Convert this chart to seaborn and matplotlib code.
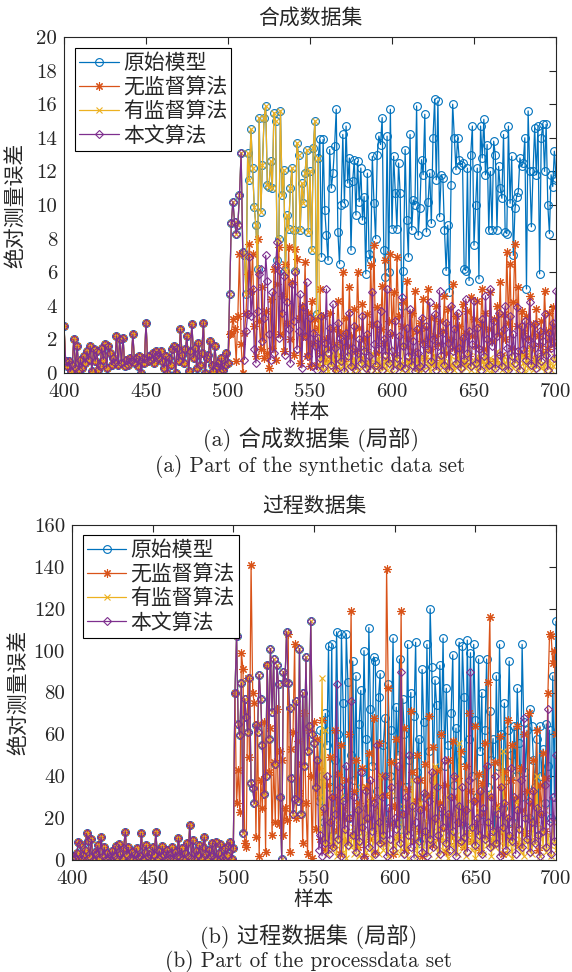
import numpy as np
import pandas as pd
import matplotlib
matplotlib.use("Agg")
import matplotlib.pyplot as plt
import seaborn as sns
from matplotlib.font_manager import FontProperties

# ---------------- data ----------------
sample_start = 400
x_ticks = [400, 450, 500, 550, 600, 650, 700]
x_tick_labels = ["400", "450", "500", "550", "600", "650", "700"]
y_ticks_syn = [0, 2, 4, 6, 8, 10, 12, 14, 16, 18, 20]
y_ticks_proc = [0, 20, 40, 60, 80, 100, 120, 140, 160]

series_names = ["原始模型", "无监督算法", "有监督算法", "本文算法"]

# --- synthetic data set ---
# samples 400-500: identical for every method
syn_common = [
    2.8, 0.7, 0.4, 0.7, 0.1, 0.5, 2.0, 0.3, 1.6, 0.2,
    0.8, 0.3, 1.0, 0.6, 1.3, 0.8, 1.6, 0.1, 1.4, 0.7,
    1.3, 0.2, 0.4, 1.5, 0.8, 1.7, 0.3, 1.6, 1.2, 0.5,
    0.9, 0.6, 2.2, 0.5, 2.0, 0.6, 2.1, 0.4, 0.8, 0.5,
    0.9, 0.7, 2.3, 0.6, 0.9, 0.4, 1.0, 0.0, 0.9, 0.6,
    3.0, 0.7, 1.0, 0.8, 1.2, 0.6, 1.3, 1.1, 0.9, 1.3,
    0.7, 0.3, 1.0, 0.0, 0.9, 0.5, 1.4, 1.6, 0.0, 1.5,
    0.7, 2.6, 1.1, 0.6, 1.4, 2.2, 0.1, 1.3, 2.9, 0.9,
    1.5, 0.3, 1.8, 0.5, 1.2, 3.0, 0.0, 0.9, 1.1, 1.9,
    0.5, 0.1, 1.6, 0.4, 0.6, 0.1, 0.9, 0.2, 0.5, 1.2,
    0.6,
]
# samples 501-509: original / supervised / proposed coincide
syn_early = [4.7, 8.9, 10.2, 9.0, 8.3, 8.8, 10.6, 13.1, 7.2]
# samples 510-555: original and supervised coincide
syn_mid = [
    7.0, 4.7, 13.1, 11.5, 14.5, 12.2, 9.9, 8.8, 6.2, 15.2,
    9.6, 12.4, 15.2, 15.9, 11.2, 11.1, 12.6, 11.0, 15.5, 15.0,
    6.7, 8.0, 15.6, 10.6, 12.1, 6.1, 9.4, 8.6, 11.0, 12.2,
    8.5, 6.1, 13.7, 13.0, 8.5, 11.3, 10.1, 11.9, 13.3, 8.4,
    12.0, 7.3, 13.4, 15.0, 3.5, 12.8,
]
# samples 556-700
syn_orig_tail = [
    13.9, 6.9, 13.9, 9.7, 8.2, 6.7, 13.3, 11.0, 11.9, 13.5,
    15.7, 8.4, 6.5, 10.0, 14.2, 10.1, 14.7, 11.3, 12.8, 7.3,
    11.4, 12.7, 9.4, 12.6, 10.2, 12.2, 9.1, 10.5, 5.9, 11.9,
    7.1, 6.7, 12.9, 10.1, 8.0, 13.0, 14.1, 13.6, 15.2, 7.3,
    5.7, 14.1, 6.0, 15.7, 8.6, 12.9, 10.7, 8.6, 12.5, 10.7,
    4.0, 6.1, 13.3, 9.1, 6.9, 14.2, 8.5, 10.3, 10.0, 15.9,
    8.2, 9.8, 12.7, 11.8, 15.4, 8.4, 10.2, 11.9, 8.9, 14.0,
    16.3, 11.5, 16.2, 9.3, 11.8, 11.6, 8.5, 6.1, 8.8, 4.8,
    11.2, 16.0, 14.0, 12.1, 14.0, 12.7, 12.4, 12.5, 6.2, 6.1,
    12.2, 5.5, 13.0, 14.7, 7.6, 10.0, 12.2, 5.6, 14.7, 12.8,
    15.1, 11.8, 13.6, 8.5, 12.0, 8.5, 13.8, 13.0, 8.5, 12.3,
    11.0, 10.4, 14.2, 8.4, 8.3, 14.7, 10.1, 12.9, 7.0, 9.8,
    10.5, 10.8, 12.8, 12.3, 12.5, 14.0, 5.0, 15.6, 12.0, 8.7,
    12.0, 14.6, 11.8, 14.7, 5.9, 14.0, 14.8, 12.0, 14.8, 10.0,
    8.3, 11.8, 11.1, 13.2, 11.6,
]
syn_sup_tail = [
    0.3, 1.0, 0.2, 0.6, 1.4, 0.1, 0.8, 0.5, 1.2, 0.0,
    0.7, 1.6, 0.3, 0.9, 0.4, 1.1, 0.2, 0.5, 1.3, 0.6,
    0.1, 0.9, 0.4, 0.2, 1.0, 0.7, 0.3, 1.5, 0.5, 0.0,
    0.8, 0.4, 1.2, 0.2, 0.6, 0.9, 0.1, 0.5, 1.1, 0.3,
    0.7, 0.2, 1.4, 0.6, 0.0, 0.9, 0.4, 1.0, 0.3, 0.6,
    0.2, 1.7, 0.5, 0.8, 0.1, 0.4, 1.2, 0.6, 0.3, 0.9,
    0.0, 0.5, 1.0, 0.2, 0.7, 1.3, 0.4, 0.1, 0.8, 0.5,
    1.1, 0.3, 0.6, 0.2, 0.9, 0.4, 1.5, 0.0, 0.7, 0.3,
    1.0, 0.5, 0.2, 0.8, 0.4, 1.2, 0.1, 0.6, 0.9, 0.3,
    0.5, 1.4, 0.2, 0.7, 0.4, 1.0, 0.1, 0.6, 0.3, 0.8,
    0.5, 1.1, 0.2, 0.4, 0.9, 0.0, 0.7, 0.3, 1.3, 0.5,
    0.6, 0.2, 1.0, 0.4, 0.8, 0.1, 0.5, 1.2, 0.3, 0.7,
    0.9, 0.2, 0.4, 1.1, 0.6, 0.0, 0.8, 0.3, 1.4, 0.5,
    0.2, 0.9, 0.4, 0.7, 1.0, 0.3, 0.6, 0.1, 1.2, 0.5,
    0.8, 0.2, 0.4, 1.0, 0.6,
]
# samples 501-700
syn_unsup_tail = [
    2.3, 2.4, 3.2, 2.6, 0.7, 3.4, 7.1, 1.7, 0.0, 2.4,
    3.6, 5.9, 7.7, 4.9, 7.1, 2.8, 1.0, 8.0, 3.1, 1.4,
    5.1, 0.9, 3.7, 1.2, 0.3, 4.4, 1.5, 6.2, 0.8, 5.3,
    7.5, 2.3, 4.6, 1.3, 6.5, 3.0, 7.5, 2.0, 5.4, 1.1,
    7.4, 6.8, 3.3, 0.6, 4.0, 2.2, 6.6, 1.0, 3.6, 0.4,
    4.3, 1.8, 3.2, 0.5, 2.7, 5.0, 1.2, 3.4, 0.8, 2.0,
    1.5, 3.6, 0.9, 2.6, 0.3, 1.7, 4.3, 2.4, 1.0, 6.0,
    0.7, 3.3, 1.6, 5.1, 2.2, 0.5, 3.8, 1.3, 6.0, 2.7,
    0.9, 4.1, 2.0, 1.4, 3.5, 0.6, 6.4, 2.9, 7.6, 1.2,
    3.9, 0.4, 2.6, 5.2, 1.8, 6.7, 0.8, 3.1, 7.1, 2.3,
    4.8, 1.1, 6.9, 3.4, 0.5, 2.8, 4.2, 1.6, 5.5, 2.1,
    0.7, 3.6, 1.3, 4.9, 2.5, 0.3, 3.0, 1.9, 4.4, 0.9,
    2.7, 5.0, 1.4, 3.3, 0.6, 2.2, 4.0, 1.7, 3.1, 0.8,
    2.5, 4.6, 1.2, 3.8, 0.4, 2.0, 5.3, 1.5, 3.4, 0.9,
    2.8, 1.3, 4.1, 0.6, 2.4, 3.7, 1.0, 4.5, 2.2, 3.2,
    1.6, 4.3, 0.8, 2.9, 5.0, 1.4, 3.6, 0.5, 2.6, 4.8,
    1.9, 3.2, 0.7, 4.0, 2.3, 5.4, 1.1, 3.5, 2.0, 7.2,
    3.0, 6.5, 1.5, 4.2, 7.7, 2.8, 5.1, 1.2, 3.7, 2.4,
    1.0, 3.4, 2.1, 4.6, 1.5, 2.9, 0.8, 3.8, 2.2, 1.6,
    3.1, 1.2, 4.9, 2.5, 1.4, 3.6, 2.0, 3.9, 1.7, 2.8,
]
# samples 510-700
syn_ours_tail = [
    0.8, 2.5, 3.5, 6.9, 3.4, 5.0, 1.4, 0.6, 3.7, 5.9,
    6.2, 1.9, 3.3, 7.0, 5.5, 2.3, 0.8, 4.8, 1.2, 6.4,
    7.8, 2.1, 6.1, 3.6, 5.8, 1.1, 4.2, 2.6, 0.6, 5.3,
    3.1, 6.0, 1.4, 2.5, 4.7, 0.3, 3.9, 2.2, 5.4, 1.0,
    3.3, 0.4, 2.4, 1.6, 0.2, 2.1, 0.9, 3.4, 0.3, 1.8,
    5.0, 1.2, 2.7, 0.5, 4.1, 1.5, 0.2, 3.0, 2.1, 0.7,
    1.9, 0.1, 2.4, 1.0, 3.6, 0.4, 1.5, 2.8, 0.2, 1.2,
    2.0, 0.6, 3.4, 1.3, 0.3, 2.3, 1.0, 0.2, 4.8, 1.7,
    0.5, 2.9, 1.4, 3.7, 0.2, 2.0, 1.1, 5.0, 0.6, 2.4,
    1.3, 0.2, 3.1, 0.9, 2.2, 0.4, 4.5, 1.6, 0.3, 2.7,
    1.0, 3.8, 0.5, 1.9, 0.1, 2.6, 1.2, 0.4, 3.3, 1.7,
    0.3, 2.8, 1.4, 4.2, 0.7, 2.0, 3.5, 0.2, 1.6, 4.9,
    1.1, 2.4, 0.5, 3.0, 1.8, 0.2, 4.0, 1.3, 2.6, 0.6,
    3.6, 1.5, 0.3, 2.1, 0.8, 4.4, 1.2, 2.5, 0.4, 1.7,
    4.3, 0.6, 2.7, 1.4, 0.2, 3.2, 1.0, 4.6, 2.0, 0.5,
    5.0, 1.6, 3.1, 0.3, 2.2, 3.6, 1.1, 0.4, 2.6, 4.0,
    1.5, 0.2, 3.4, 1.0, 2.3, 0.6, 3.9, 1.3, 0.2, 2.8,
    1.4, 3.1, 0.8, 2.0, 4.2, 0.5, 1.7, 2.9, 0.3, 1.2,
    2.5, 0.7, 1.9, 3.5, 1.1, 0.2, 2.4, 1.5, 3.0, 0.9,
    4.9,
]

# --- process data set ---
# samples 400-500: identical for every method
proc_common = [
    0.5, 2.0, 1.0, 3.5, 8.7, 7.5, 0.3, 2.5, 5.0, 12.7,
    9.0, 1.5, 10.0, 0.2, 4.0, 3.0, 7.0, 1.0, 11.0, 2.0,
    6.0, 0.5, 3.5, 1.5, 0.2, 4.5, 2.0, 6.5, 1.0, 7.5,
    3.0, 0.8, 5.5, 13.5, 2.5, 6.0, 1.0, 4.0, 0.3, 3.0,
    5.5, 1.2, 2.0, 12.7, 0.5, 4.0, 7.0, 1.5, 3.0, 0.2,
    6.0, 2.5, 13.2, 0.8, 4.5, 1.8, 6.5, 2.5, 0.5, 5.0,
    3.0, 1.0, 6.0, 0.3, 4.0, 2.0, 10.5, 1.5, 5.5, 0.5,
    3.5, 8.0, 2.0, 16.7, 1.0, 9.5, 0.3, 4.5, 2.5, 7.0,
    0.5, 6.0, 11.0, 3.0, 0.8, 5.0, 2.0, 8.0, 1.0, 8.7,
    0.4, 3.5, 7.5, 1.5, 0.2, 5.5, 2.5, 6.5, 8.7, 0.5,
    5.5,
]
# samples 501-552: original / supervised / proposed coincide
proc_shared = [
    80, 107, 65, 59.5, 84.5, 13, 77, 68.5, 61, 87,
    37, 34.5, 27, 64.5, 61, 88.5, 77, 55, 31.5, 40,
    93, 58, 101, 70.7, 96, 46, 93, 84, 30, 0.5,
    90, 85, 109, 84.5, 72.5, 39, 22, 29, 76, 28,
    101, 22, 80, 45, 97, 52, 64, 114, 60, 56,
    35, 48,
]
# samples 501-700
proc_unsup_tail = [
    80, 27, 43, 23, 99, 91, 8, 6, 87, 49,
    141, 80, 75, 11, 65, 2, 38, 25, 66, 4,
    93, 42, 63, 12, 47, 18, 72, 17, 52, 48,
    12, 25, 19, 108, 4, 53, 61, 103, 20, 57,
    32, 46, 8, 70, 27, 3, 62, 40, 1, 66,
    15, 58, 44, 10, 67, 23, 5, 36, 18, 49,
    7, 30, 62, 14, 41, 3, 55, 25, 9, 38,
    20, 60, 119, 12, 33, 48, 6, 27, 15, 44,
    2, 35, 19, 51, 10, 29, 68, 4, 24, 56,
    13, 40, 8, 31, 139, 82, 17, 47, 3, 26,
    58, 11, 37, 119, 22, 63, 5, 34, 16, 71,
    42, 9, 28, 50, 14, 38, 2, 25, 46, 12,
    69, 31, 7, 54, 19, 43, 10, 27, 60, 15,
    36, 4, 48, 21, 11, 57, 30, 8, 39, 18,
    52, 24, 6, 45, 13, 70, 33, 9, 28, 64,
    17, 41, 5, 37, 22, 56, 12, 85, 116, 30,
    8, 47, 26, 14, 59, 35, 3, 42, 20, 67,
    11, 38, 55, 16, 29, 64, 7, 44, 24, 60,
    13, 33, 70, 9, 27, 48, 18, 62, 5, 36,
    22, 51, 14, 39, 80, 108, 107, 94, 100, 60,
]
# samples 553-700
proc_orig_tail = [
    28, 62, 40, 18, 70, 55, 102, 35, 103, 12,
    48, 109, 60, 22, 108, 75, 30, 108, 85, 20,
    50, 95, 38, 88, 14, 65, 81, 42, 100, 58,
    25, 111, 72, 45, 97, 95, 33, 78, 89, 10,
    55, 68, 18, 84, 40, 62, 106, 28, 73, 50,
    96, 15, 77, 60, 35, 103, 48, 80, 22, 69,
    104, 42, 58, 8, 91, 66, 30, 103, 52, 120,
    92, 38, 86, 74, 20, 93, 60, 106, 45, 82,
    55, 12, 70, 98, 36, 63, 25, 104, 48, 102,
    78, 16, 105, 58, 99, 40, 103, 67, 30, 96,
    52, 80, 22, 62, 96, 35, 71, 48, 58, 10,
    88, 45, 103, 60, 25, 75, 38, 62, 95, 50,
    18, 64, 40, 82, 56, 30, 103, 66, 42, 62,
    20, 72, 64, 48, 35, 58, 15, 64, 40, 53,
    27, 65, 45, 62, 20, 88, 30, 114,
]
proc_sup_tail = [
    30, 15, 87, 8, 62, 3, 20, 12, 5, 25,
    10, 2, 18, 7, 30, 4, 14, 1, 22, 9,
    6, 16, 3, 25, 11, 2, 35, 8, 19, 4,
    13, 28, 6, 1, 17, 9, 24, 3, 40, 12,
    5, 20, 8, 2, 15, 33, 7, 11, 4, 18,
    10, 3, 26, 6, 14, 1, 21, 9, 38, 5,
    16, 2, 12, 27, 7, 4, 19, 10, 3, 24,
    8, 14, 45, 6, 2, 18, 11, 5, 30, 9,
    1, 15, 7, 22, 4, 12, 3, 56, 10, 6,
    20, 2, 13, 8, 28, 5, 16, 1, 9, 24,
    4, 11, 3, 18, 7, 32, 10, 2, 15, 6,
    25, 9, 4, 14, 52, 7, 20, 3, 12, 8,
    1, 17, 6, 28, 10, 4, 15, 2, 21, 9,
    5, 13, 3, 19, 8, 40, 11, 2, 16, 6,
    24, 4, 12, 7, 2, 18, 9, 5,
]
proc_ours_tail = [
    5, 12, 2, 25, 8, 40, 3, 18, 30, 6,
    22, 84, 10, 35, 2, 28, 15, 45, 7, 20,
    76, 12, 30, 4, 24, 9, 42, 16, 1, 33,
    20, 6, 38, 14, 27, 3, 55, 18, 8, 30,
    12, 40, 2, 25, 10, 35, 5, 20, 15, 45,
    8, 90, 22, 3, 30, 12, 50, 6, 26, 1,
    18, 38, 9, 24, 4, 32, 14, 2, 28, 10,
    42, 6, 20, 35, 12, 3, 25, 16, 48, 8,
    22, 5, 30, 14, 40, 2, 18, 26, 9, 35,
    11, 24, 4, 38, 90, 16, 28, 7, 20, 12,
    33, 3, 25, 10, 45, 18, 6, 30, 14, 40,
    8, 22, 2, 35, 16, 27, 5, 20, 12, 44,
    9, 30, 3, 24, 15, 38, 6, 68, 20, 10,
    28, 4, 18, 33, 8, 25, 12, 2, 22, 14,
    36, 6, 72, 18, 3, 30, 9, 50,
]

syn_series = {
    "原始模型": syn_common + syn_early + syn_mid + syn_orig_tail,
    "无监督算法": syn_common + syn_unsup_tail,
    "有监督算法": syn_common + syn_early + syn_mid + syn_sup_tail,
    "本文算法": syn_common + syn_early + syn_ours_tail,
}
proc_series = {
    "原始模型": proc_common + proc_shared + proc_orig_tail,
    "无监督算法": proc_common + proc_unsup_tail,
    "有监督算法": proc_common + proc_shared + proc_sup_tail,
    "本文算法": proc_common + proc_shared + proc_ours_tail,
}
for s in list(syn_series.values()) + list(proc_series.values()):
    assert len(s) == 301, len(s)

# ---------------- style ----------------
sns.set_theme(style="white")
plt.rcParams["font.family"] = ["cmr10", "Noto Sans CJK SC"]
plt.rcParams["axes.formatter.use_mathtext"] = True
plt.rcParams["mathtext.fontset"] = "cm"
plt.rcParams["axes.unicode_minus"] = False

colors = {"原始模型": "#0072BD", "无监督算法": "#D95319",
          "有监督算法": "#EDB120", "本文算法": "#7E2F8E"}
markers = {"原始模型": "o", "无监督算法": (8, 2, 0),
           "有监督算法": "x", "本文算法": "D"}
msizes = {"原始模型": 5.6, "无监督算法": 6.0, "有监督算法": 4.8, "本文算法": 4.3}

cjk = ["Noto Sans CJK SC"]
mixed = ["cmr10", "Noto Sans CJK SC"]
axis_color = "#262626"

fig = plt.figure(figsize=(5.72, 9.72), dpi=100)
ax_a = fig.add_axes([64 / 572, 1 - 373 / 972, 492 / 572, 336 / 972])
ax_b = fig.add_axes([72 / 572, 1 - 860 / 972, 484 / 572, 335 / 972])


def draw_panel(ax, series, yticks, title, ylab_x, legend_anchor):
    n = len(next(iter(series.values())))
    xs = np.arange(sample_start, sample_start + n)
    for name, vals in series.items():
        df = pd.DataFrame({"样本": xs, "误差": vals})
        sns.lineplot(data=df, x="样本", y="误差", ax=ax, color=colors[name],
                     estimator=None, errorbar=None, sort=False,
                     linewidth=0.9, marker=markers[name], markersize=msizes[name],
                     markerfacecolor="none", markeredgecolor=colors[name],
                     markeredgewidth=0.8, label=name)
    ax.set_xlim(400, 700)
    ax.set_ylim(yticks[0], yticks[-1])
    ax.set_xticks(x_ticks)
    ax.set_xticklabels(x_tick_labels)
    ax.set_yticks(yticks)
    ax.set_yticklabels([str(v) for v in yticks])
    ax.tick_params(direction="in", top=True, right=True, length=5, width=0.8,
                   labelsize=15, colors=axis_color)
    ax.tick_params(axis="x", pad=7)
    ax.tick_params(axis="y", pad=5)
    for sp in ax.spines.values():
        sp.set_color(axis_color)
        sp.set_linewidth(0.8)
    ax.set_title(title, fontsize=15, family=cjk, y=1.056, va="center",
                 color="#262626", pad=0)
    ax.set_xlabel("样本", fontsize=14.5, family=cjk, color="#262626")
    ax.xaxis.set_label_coords(0.5, -0.118)
    ax.xaxis.label.set_va("center")
    ax.set_ylabel("绝对测量误差", fontsize=15, family=cjk, color="#262626")
    ax.yaxis.set_label_coords(ylab_x, 0.5)
    ax.yaxis.label.set_va("center")
    leg = ax.legend(loc="upper left", bbox_to_anchor=legend_anchor,
                    borderaxespad=0, prop=FontProperties(family=cjk, size=15),
                    frameon=True, fancybox=False, framealpha=1,
                    edgecolor="black", handlelength=1.9, handletextpad=0.2,
                    labelspacing=0.1, borderpad=0.2)
    leg.get_frame().set_linewidth(0.8)


draw_panel(ax_a, syn_series, y_ticks_syn, "合成数据集", -0.100, (0.0224, 0.967))
draw_panel(ax_b, proc_series, y_ticks_proc, "过程数据集", -0.112, (0.0221, 0.970))

cap_color = "#262626"
fig.text(0.543, 1 - 440 / 972, "(a) 合成数据集 (局部)", ha="center", va="center",
         fontsize=16, family=mixed, color=cap_color)
fig.text(0.543, 1 - 466 / 972, "(a) Part of the synthetic data set", ha="center",
         va="center", fontsize=15.3, family=mixed, color=cap_color)
fig.text(0.54, 1 - 937 / 972, "(b) 过程数据集 (局部)", ha="center", va="center",
         fontsize=16, family=mixed, color=cap_color)
fig.text(0.54, 1 - 961 / 972, "(b) Part of the processdata set", ha="center",
         va="center", fontsize=15.3, family=mixed, color=cap_color)

fig.savefig("out.png", dpi=100)
